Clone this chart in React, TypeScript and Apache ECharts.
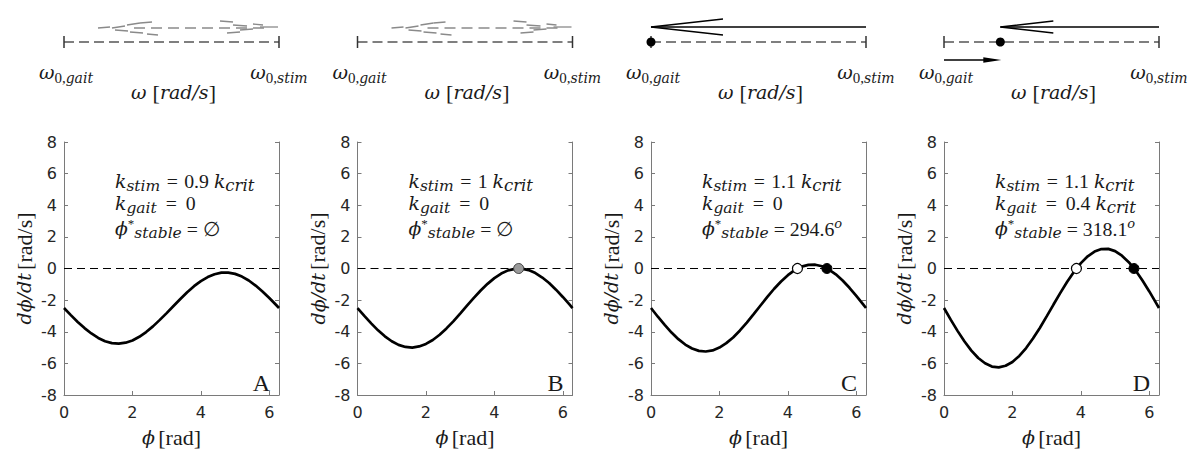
import React, { useEffect, useRef } from 'react';
import * as echarts from 'echarts';

// ---------- data ----------
const TWO_PI = 6.2832;
const phi = [0, 0.2, 0.4, 0.6, 0.8, 1.0, 1.2, 1.4, 1.6, 1.8, 2.0, 2.2, 2.4, 2.6, 2.8, 3.0, 3.2, 3.4, 3.6, 3.8, 4.0, 4.2, 4.4, 4.6, 4.8, 5.0, 5.2, 5.4, 5.6, 5.8, 6.0, 6.2, 6.2832];
const curveA = [-2.5, -2.95, -3.38, -3.77, -4.11, -4.39, -4.6, -4.72, -4.75, -4.69, -4.55, -4.32, -4.02, -3.66, -3.25, -2.82, -2.37, -1.93, -1.5, -1.12, -0.8, -0.54, -0.36, -0.26, -0.26, -0.34, -0.51, -0.76, -1.08, -1.45, -1.87, -2.31, -2.5];
const curveB = [-2.5, -3.0, -3.47, -3.91, -4.29, -4.6, -4.83, -4.96, -5.0, -4.93, -4.77, -4.52, -4.19, -3.79, -3.34, -2.85, -2.35, -1.86, -1.39, -0.97, -0.61, -0.32, -0.12, -0.02, -0.01, -0.1, -0.29, -0.57, -0.92, -1.34, -1.8, -2.29, -2.5];
const curveC = [-2.5, -3.05, -3.57, -4.05, -4.47, -4.81, -5.06, -5.21, -5.25, -5.18, -5.0, -4.72, -4.36, -3.92, -3.42, -2.89, -2.34, -1.8, -1.28, -0.82, -0.42, -0.1, 0.12, 0.23, 0.24, 0.14, -0.07, -0.37, -0.76, -1.22, -1.73, -2.27, -2.5];
const curveD = [-2.5, -3.25, -3.96, -4.62, -5.19, -5.66, -5.99, -6.2, -6.25, -6.15, -5.91, -5.53, -5.03, -4.43, -3.76, -3.03, -2.28, -1.54, -0.84, -0.21, 0.34, 0.77, 1.07, 1.23, 1.24, 1.1, 0.81, 0.4, -0.13, -0.76, -1.45, -2.19, -2.5];
const curves = [curveA, curveB, curveC, curveD];

const neutralPts = [[], [4.71], [], []];
const unstablePts = [[], [], [4.28], [3.87]];
const stablePts = [[], [], [5.14], [5.55]];

const panelLetters = ['A', 'B', 'C', 'D'];
const kStimText = ['0.9', '1', '1.1', '1.1'];
const kGaitText = ['0', '0', '0', '0.4'];
const kGaitCrit = [false, false, false, true];
const phiStableText = ['∅', '∅', '294.6', '318.1'];
const phiStableDeg = [false, false, true, true];

const xTicks = [0, 2, 4, 6];
const yTicks = [-8, -6, -4, -2, 0, 2, 4, 6, 8];

// schematic (fraction along ω axis: 0 = ω0,gait, 1 = ω0,stim)
const stimArrowTip = [null, null, 0, 0.262];
const eqPointPos = [null, null, 0, 0.262];
const gaitArrowEnd = [null, null, null, 0.262];
const ghostPanels = [true, true, false, false];

// ---------- layout ----------
const W = 215;
const PANEL_LEFT = [64, 357.5, 651, 944];
const GRID_TOP = 142;
const GRID_H = 256;
const LINE_Y = 42;
const ARROW_Y = 27;
const SERIF = "'Liberation Serif', 'DejaVu Serif', serif";
const ISERIF = "'DejaVu Serif', 'Liberation Serif', serif";
const SANS = "'DejaVu Sans', 'Liberation Sans', sans-serif";
const AXIS_COLOR = '#7a7a7a';
const TXT = '#1a1a1a';

const GHOST_SEGS = [
  [34, 28, 46, 27], [48, 28, 61, 26], [51, 30, 64, 31], [63, 25, 76, 23], [66, 32, 79, 33],
  [76, 23, 88, 22], [83, 34, 94, 35], [156, 21, 169, 22], [163, 33, 176, 32], [169, 25, 183, 26],
  [176, 30, 189, 29], [189, 24, 199, 25], [196, 27, 214, 27],
];

function makeRich(LH: number) {
  return {
    m: { fontFamily: ISERIF, fontStyle: 'italic', fontSize: 18.8, lineHeight: LH, fill: TXT },
    r: { fontFamily: SERIF, fontSize: 19.8, lineHeight: LH, fill: TXT },
    eq: { fontFamily: SERIF, fontSize: 19.8, lineHeight: LH, width: 24, align: 'center', fill: TXT },
    eq2: { fontFamily: SERIF, fontSize: 19.8, lineHeight: LH, width: 29, align: 'center', fill: TXT },
    eq3: { fontFamily: SERIF, fontSize: 19.8, lineHeight: LH, width: 21, align: 'center', fill: TXT },
    s: { fontFamily: ISERIF, fontStyle: 'italic', fontSize: 15.5, lineHeight: LH, verticalAlign: 'bottom', fill: TXT },
    sc: { fontFamily: ISERIF, fontStyle: 'italic', fontSize: 16.5, lineHeight: LH, verticalAlign: 'bottom', fill: TXT },
    s0: { fontFamily: SERIF, fontSize: 15, lineHeight: LH, verticalAlign: 'bottom', fill: TXT },
    sup: { fontFamily: SERIF, fontSize: 13, lineHeight: LH, verticalAlign: 'top', fill: TXT },
    supo: { fontFamily: ISERIF, fontStyle: 'italic', fontSize: 13, lineHeight: LH, verticalAlign: 'top', fill: TXT },
    wm: { fontFamily: ISERIF, fontStyle: 'italic', fontSize: 19, lineHeight: LH, fill: TXT },
    wr: { fontFamily: SERIF, fontSize: 22, lineHeight: LH, fill: TXT },
    ws: { fontFamily: ISERIF, fontStyle: 'italic', fontSize: 14, lineHeight: LH, verticalAlign: 'bottom', fill: TXT },
  };
}
const rich26 = makeRich(26);
const rich24 = makeRich(24);

const richAxis = {
  i: { fontFamily: ISERIF, fontStyle: 'italic', fontSize: 19, color: TXT },
  r: { fontFamily: SERIF, fontSize: 22, color: TXT },
};

function buildOption() {
  const grid = PANEL_LEFT.map((l) => ({ left: l, top: GRID_TOP, width: W, height: GRID_H }));
  const xAxis = PANEL_LEFT.map((_, i) => ({
    type: 'value', gridIndex: i, min: 0, max: TWO_PI, interval: 2,
    name: '{i|ϕ} {r|[rad]}', nameLocation: 'middle', nameGap: 31,
    nameTextStyle: { rich: richAxis },
    axisLine: { show: true, onZero: false, lineStyle: { color: AXIS_COLOR, width: 1 } },
    axisTick: { show: true, inside: true, length: 4, lineStyle: { color: AXIS_COLOR } },
    axisLabel: {
      color: '#262626', fontSize: 16, fontFamily: SANS, margin: 9,
      formatter: (v: number) => (xTicks.some((t) => Math.abs(t - v) < 1e-6) ? String(Math.round(v)) : ''),
    },
    splitLine: { show: false },
  }));
  const yAxis: any[] = [];
  PANEL_LEFT.forEach((_, i) => {
    yAxis.push({
      type: 'value', gridIndex: i, min: yTicks[0], max: yTicks[yTicks.length - 1], interval: 2, position: 'left',
      name: '{i|dϕ/dt} {r|[rad/s]}', nameLocation: 'middle', nameGap: 29, nameRotate: 90,
      nameTextStyle: { rich: richAxis },
      axisLine: { show: true, onZero: false, lineStyle: { color: AXIS_COLOR, width: 1 } },
      axisTick: { show: true, inside: true, length: 4, lineStyle: { color: AXIS_COLOR } },
      axisLabel: { color: '#262626', fontSize: 16, fontFamily: SANS, margin: 7 },
      splitLine: { show: false },
    });
    yAxis.push({
      type: 'value', gridIndex: i, min: yTicks[0], max: yTicks[yTicks.length - 1], interval: 2, position: 'right',
      axisLine: { show: true, onZero: false, lineStyle: { color: AXIS_COLOR, width: 1 } },
      axisTick: { show: true, inside: true, length: 4, lineStyle: { color: AXIS_COLOR } },
      axisLabel: { show: false },
      splitLine: { show: false },
    });
  });

  const series: any[] = [];
  curves.forEach((c, i) => {
    series.push({
      type: 'line', xAxisIndex: i, yAxisIndex: 2 * i, showSymbol: false, z: 3,
      data: phi.map((x, j) => [x, c[j]]),
      lineStyle: { color: '#000', width: 2.7 },
      markLine: {
        silent: true, symbol: ['none', 'none'], label: { show: false },
        lineStyle: { color: '#000', width: 1, type: [8, 5] },
        data: [{ yAxis: 0 }],
      },
    });
    series.push({
      type: 'scatter', xAxisIndex: i, yAxisIndex: 2 * i, z: 5, symbolSize: 10,
      data: neutralPts[i].map((x) => [x, 0]),
      itemStyle: { color: '#9a9a9a', borderColor: '#444', borderWidth: 1, opacity: 1 },
    });
    series.push({
      type: 'scatter', xAxisIndex: i, yAxisIndex: 2 * i, z: 5, symbolSize: 10,
      data: unstablePts[i].map((x) => [x, 0]),
      itemStyle: { color: '#fff', borderColor: '#000', borderWidth: 1.2, opacity: 1 },
    });
    series.push({
      type: 'scatter', xAxisIndex: i, yAxisIndex: 2 * i, z: 5, symbolSize: 10,
      data: stablePts[i].map((x) => [x, 0]),
      itemStyle: { color: '#000', borderColor: '#000', borderWidth: 1, opacity: 1 },
    });
  });

  const graphic: any[] = [];
  PANEL_LEFT.forEach((L, i) => {
    const R = L + W;
    // annotations
    const ax = L + 51;
    graphic.push({
      type: 'text', silent: true,
      style: { x: ax, y: 181, verticalAlign: 'middle', rich: rich26,
        text: `{m|k}{s|stim}{eq|=}{r|${kStimText[i]} }{m|k}{sc|crit}` },
    });
    graphic.push({
      type: 'text', silent: true,
      style: { x: ax, y: 203, verticalAlign: 'middle', rich: rich26,
        text: `{m|k}{s|gait}{eq2|=}` + (kGaitCrit[i] ? `{r|${kGaitText[i]} }{m|k}{sc|crit}` : `{r|${kGaitText[i]}}`) },
    });
    graphic.push({
      type: 'text', silent: true,
      style: { x: ax, y: 228.5, verticalAlign: 'middle', rich: rich24,
        text: `{m|ϕ}{sup|*}{s|stable}{eq3|=}{r|${phiStableText[i]}}` + (phiStableDeg[i] ? '{supo|o}' : '') },
    });
    // panel letter
    graphic.push({
      type: 'text', silent: true,
      style: { x: R - 9, y: 383, align: 'right', verticalAlign: 'middle', text: panelLetters[i],
        fontFamily: SERIF, fontSize: 24, fill: TXT },
    });

    // schematic base line
    graphic.push({ type: 'line', silent: true, shape: { x1: L, y1: LINE_Y, x2: R, y2: LINE_Y },
      style: { stroke: '#555', lineWidth: 1.5, lineDash: [10, 5] } });
    graphic.push({ type: 'line', silent: true, shape: { x1: L, y1: LINE_Y - 6, x2: L, y2: LINE_Y + 6 },
      style: { stroke: '#333', lineWidth: 1.5 } });
    graphic.push({ type: 'line', silent: true, shape: { x1: R, y1: LINE_Y - 6, x2: R, y2: LINE_Y + 6 },
      style: { stroke: '#333', lineWidth: 1.5 } });

    if (ghostPanels[i]) {
      graphic.push({ type: 'line', silent: true, shape: { x1: L + 70, y1: 28, x2: L + 200, y2: 28 },
        style: { stroke: '#8a8a8a', lineWidth: 1.3, lineDash: [11, 6] } });
      GHOST_SEGS.forEach((s) => {
        graphic.push({ type: 'line', silent: true, shape: { x1: L + s[0], y1: s[1], x2: L + s[2], y2: s[3] },
          style: { stroke: '#8a8a8a', lineWidth: 1.3 } });
      });
    }
    const tipF = stimArrowTip[i];
    if (tipF !== null) {
      const tx = L + tipF * W;
      const armLen = i === 2 ? 72 : 53;
      const armH = i === 2 ? 8 : 6;
      graphic.push({ type: 'line', silent: true, shape: { x1: R, y1: ARROW_Y, x2: tx, y2: ARROW_Y },
        style: { stroke: '#000', lineWidth: 1.5 } });
      graphic.push({ type: 'polyline', silent: true,
        shape: { points: [[tx + armLen, ARROW_Y - armH], [tx, ARROW_Y], [tx + armLen, ARROW_Y + armH]] },
        style: { stroke: '#000', lineWidth: 1.3, fill: null } });
    }
    const eqF = eqPointPos[i];
    if (eqF !== null) {
      graphic.push({ type: 'circle', silent: true, z: 10, shape: { cx: L + eqF * W, cy: LINE_Y, r: 4.5 },
        style: { fill: '#000' } });
    }
    const gF = gaitArrowEnd[i];
    if (gF !== null) {
      const ex = L + gF * W;
      graphic.push({ type: 'line', silent: true, shape: { x1: L, y1: 60, x2: ex - 10, y2: 60 },
        style: { stroke: '#000', lineWidth: 1.5 } });
      graphic.push({ type: 'polygon', silent: true,
        shape: { points: [[ex + 1, 60], [ex - 17, 57.3], [ex - 17, 62.7]] },
        style: { fill: '#000' } });
    }
    // schematic labels
    graphic.push({ type: 'text', silent: true,
      style: { x: L + 2, y: 72, align: 'center', verticalAlign: 'middle', rich: rich26,
        text: '{wm|ω}{s0|0,}{ws|gait}' } });
    graphic.push({ type: 'text', silent: true,
      style: { x: R, y: 72, align: 'center', verticalAlign: 'middle', rich: rich26,
        text: '{wm|ω}{s0|0,}{ws|stim}' } });
    graphic.push({ type: 'text', silent: true,
      style: { x: L + W / 2 + 2, y: 92, align: 'center', verticalAlign: 'middle', rich: rich26,
        text: '{wm|ω }{wr|[}{wm|rad/s}{wr|]}' } });
  });

  return { animation: false, backgroundColor: '#fff', grid, xAxis, yAxis, series, graphic };
}

export default function App() {
  const ref = useRef<HTMLDivElement>(null);
  useEffect(() => {
    if (!ref.current) return;
    const chart = echarts.init(ref.current, undefined, { renderer: 'svg' });
    chart.setOption(buildOption() as any);
    return () => chart.dispose();
  }, []);
  return <div ref={ref} style={{ position: 'absolute', left: 0, top: 0, width: 1189, height: 453 }} />;
}
